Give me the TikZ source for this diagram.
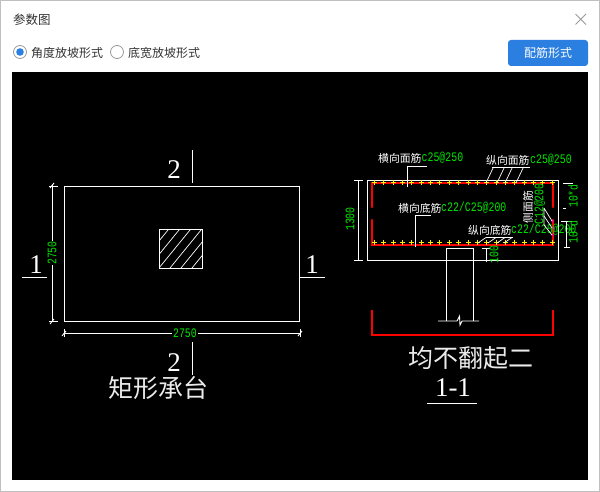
\documentclass[tikz,border=0pt]{standalone}
\usepackage{fontspec}
\setmainfont{Liberation Sans}
\newfontfamily\cjkfont{Noto Sans CJK SC}
\newfontfamily\cadmono[FakeStretch=0.76]{Liberation Mono}
\newfontfamily\cadserif{Liberation Serif}
\usepackage[dvipsnames]{xcolor}
\definecolor{btnblue}{HTML}{2B7FE0}
\definecolor{radiogray}{HTML}{9A9A9A}
\definecolor{cadgreen}{HTML}{00E600}
\definecolor{cadred}{HTML}{FF0000}

\begin{document}
\begin{tikzpicture}[x=1pt,y=-1pt,cad line/.style={white,line width=0.9pt},rebar/.style={cadred,line width=2.6pt,line cap=round},
    ui text/.style={font=\cjkfont\fontsize{12}{12}\selectfont,text=black!80,inner sep=0pt},
    cad title/.style={font=\cjkfont\fontsize{25}{25}\selectfont,text=white!92!black,inner sep=0pt},
    cut mark/.style={font=\cadserif\fontsize{27}{27}\selectfont,text=white,inner sep=0pt},
    bar name/.style={font=\cjkfont\fontsize{10.8}{11}\selectfont,text=white,inner sep=0pt,anchor=west},
    bar size/.style={font=\cadmono\fontsize{13}{13}\selectfont,text=cadgreen,inner sep=0pt,anchor=west},
    dim text/.style={font=\cadmono\fontsize{13}{13}\selectfont,text=cadgreen,inner sep=0pt},
    dot mark/.style={yellow,line width=1pt}]
    \useasboundingbox (0,0) rectangle (600,492);
    \fill[white] (0,0) rectangle (600,492);
    \draw[black!25,line width=1pt] (0.5,0.5) rectangle (599.5,491.5);

    \node[ui text,anchor=west,font=\cjkfont\fontsize{12.5}{13}\selectfont] (title) at (13,20){参数图};
    \draw[radiogray,line width=0.9pt] (575.5,14) -- (586,24.5) (586,14) -- (575.5,24.5);

    \node[circle,draw=radiogray,fill=white,minimum size=13pt,inner sep=0pt,line width=0.8pt] (radio1) at (20,52){};
    \fill[btnblue] (radio1.center) circle (3.8);
    \node[ui text,anchor=west] (angle) at (31,52.5){角度放坡形式};
    \node[circle,draw=radiogray,fill=white,minimum size=13pt,inner sep=0pt,line width=0.8pt] (radio2) at (117,52){};
    \node[ui text,anchor=west] (width) at (128,52.5){底宽放坡形式};
    \node[fill=btnblue,rounded corners=3pt,minimum width=80pt,minimum height=26pt,inner sep=0pt,text=white,font=\cjkfont\fontsize{12}{12}\selectfont] (btn) at (548,53){配筋形式};

    \fill[black] (12,72) rectangle (588,480);

    \draw[cad line] (64,186) rectangle (299,321);
    \draw[cad line] (159,229) rectangle (202,268);
    \begin{scope}
        \clip (159,229) rectangle (202,268);
        \foreach \i in {-3,...,4}{
            \draw[white,line width=0.7pt] (159+\i*11,268) -- ++(40,-49);
        }
    \end{scope}
    \draw[cad line] (52,185) -- (52,322);
    \draw[cad line] (49,186) -- (58,186) (49,321) -- (58,321);
    \draw[cad line] (50,188) -- (54,183) (50,324) -- (54,319);
    \draw[cad line] (64,333) -- (300,333);
    \draw[cad line] (64,329) -- (64,337) (300,329) -- (300,337);
    \draw[cad line] (62,336) -- (66,331) (298,336) -- (302,331);
    \node[dim text,fill=black,rotate=90,inner ysep=0pt] (side) at (52,253){2750};
    \node[dim text,fill=black,inner xsep=1pt] (base) at (185,333){2750};

    \draw[cad line] (192,150) -- (192,183);
    \draw[cad line] (192,342) -- (192,375);
    \draw[cad line] (22,277) -- (47,277);
    \draw[cad line] (299,277) -- (325,277);
    \node[cut mark] (top2) at (174,170){2};
    \node[cut mark] (bot2) at (174,363){2};
    \node[cut mark] (left1) at (36,265){1};
    \node[cut mark] (right1) at (312,265){1};
    \node[cad title] (plan) at (158,388){矩形承台};

    \draw[cad line] (367,180) rectangle (558,260);
    \draw[rebar] (372,207) -- (372,183) -- (553,183) -- (553,207);
    \draw[rebar] (372,220) -- (372,245) -- (553,245) -- (553,220);
    \foreach \i in {0,...,19}{
        \draw[dot mark] (374.5+\i*9.35-2.5,183) -- ++(5,0) (374.5+\i*9.35,180.5) -- ++(0,5);
        \draw[dot mark] (374.5+\i*9.35-2.5,242) -- ++(5,0) (374.5+\i*9.35,239.5) -- ++(0,5);
    }
    \foreach \y in {221,228,235}{
        \fill[magenta] (552.5,\y) circle (1.5);
    }

    \draw[cad line] (446,321) -- (446,248) -- (473,248) -- (473,321);
    \draw[cad line] (438,321) -- (457,321) -- (459.5,316) -- (460,325) -- (462,321) -- (479,321);
    \draw[cadred,line width=1.6pt] (372,310) -- (372,335) -- (553,335) -- (553,310);
    \node[cad title] (rule) at (471,358){均不翻起二};
    \node[cut mark,font=\cadserif\fontsize{27}{27}\selectfont] (cut) at (453,388){1-1};
    \draw[cad line] (427,403) -- (477,403);

    \draw[cad line] (358,180) -- (358,261);
    \draw[cad line] (354,180) -- (363,180) (354,260) -- (363,260);
    \node[dim text,rotate=90] (high) at (350,219){1300};

    \node[bar name] (tname) at (378,158){横向面筋};
    \node[bar size] (tsize) at (421.5,158){c25@250};
    \draw[cad line] (407,187) -- (407,166) -- (427,166);

    \node[bar name] (lname) at (486,160){纵向面筋};
    \node[bar size] (lsize) at (530,160){c25@250};
    \draw[cad line] (492,167) -- (530,167);
    \foreach \x in {486,497,505,516}{
        \draw[white,line width=0.7pt] (\x,183) -- ++(7.5,-16);
    }

    \node[bar name] (bname) at (398,208){横向底筋};
    \node[bar size] (bsize) at (441,208){c22/C25@200};
    \draw[cad line] (415.5,247) -- (415.5,215) -- (431,215);

    \node[bar name] (dname) at (468,230){纵向底筋};
    \node[bar size] (dsize) at (511,230){c22/C25@200};
    \draw[cad line] (486,237.5) -- (513,237.5);
    \foreach \x in {478,488,497,504}{
        \draw[white,line width=0.7pt] (\x,243) -- ++(8,-5.5);
    }

    \node[bar name,anchor=center,rotate=90] (sname) at (528,207){侧面筋};
    \node[dim text,rotate=90] (ssize) at (539.5,204){C12@200};
    \draw[white,line width=0.7pt] (544,208) -- (544,225) (544,208) -- (552,221);
    \draw[white,line width=0.7pt] (544,216) -- (552,228) (544,225) -- (552,235);

    \draw[cad line] (563,183) -- (573,183);
    \draw[cad line] (563,208) -- (566,208);
    \node[dim text,rotate=90] (d1) at (573,196){10*d};
    \draw[cad line] (566,221) -- (566,247);
    \draw[cad line] (561,221) -- (572,221) (564,247) -- (570,247);
    \node[dim text,rotate=90] (d2) at (573,232){10*d};

    \draw[cad line] (486,248) -- (486,262);
    \draw[cad line] (482,248) -- (490,248);
    \node[dim text,rotate=90] (cover) at (494,254.5){100};
\end{tikzpicture}
\end{document}
